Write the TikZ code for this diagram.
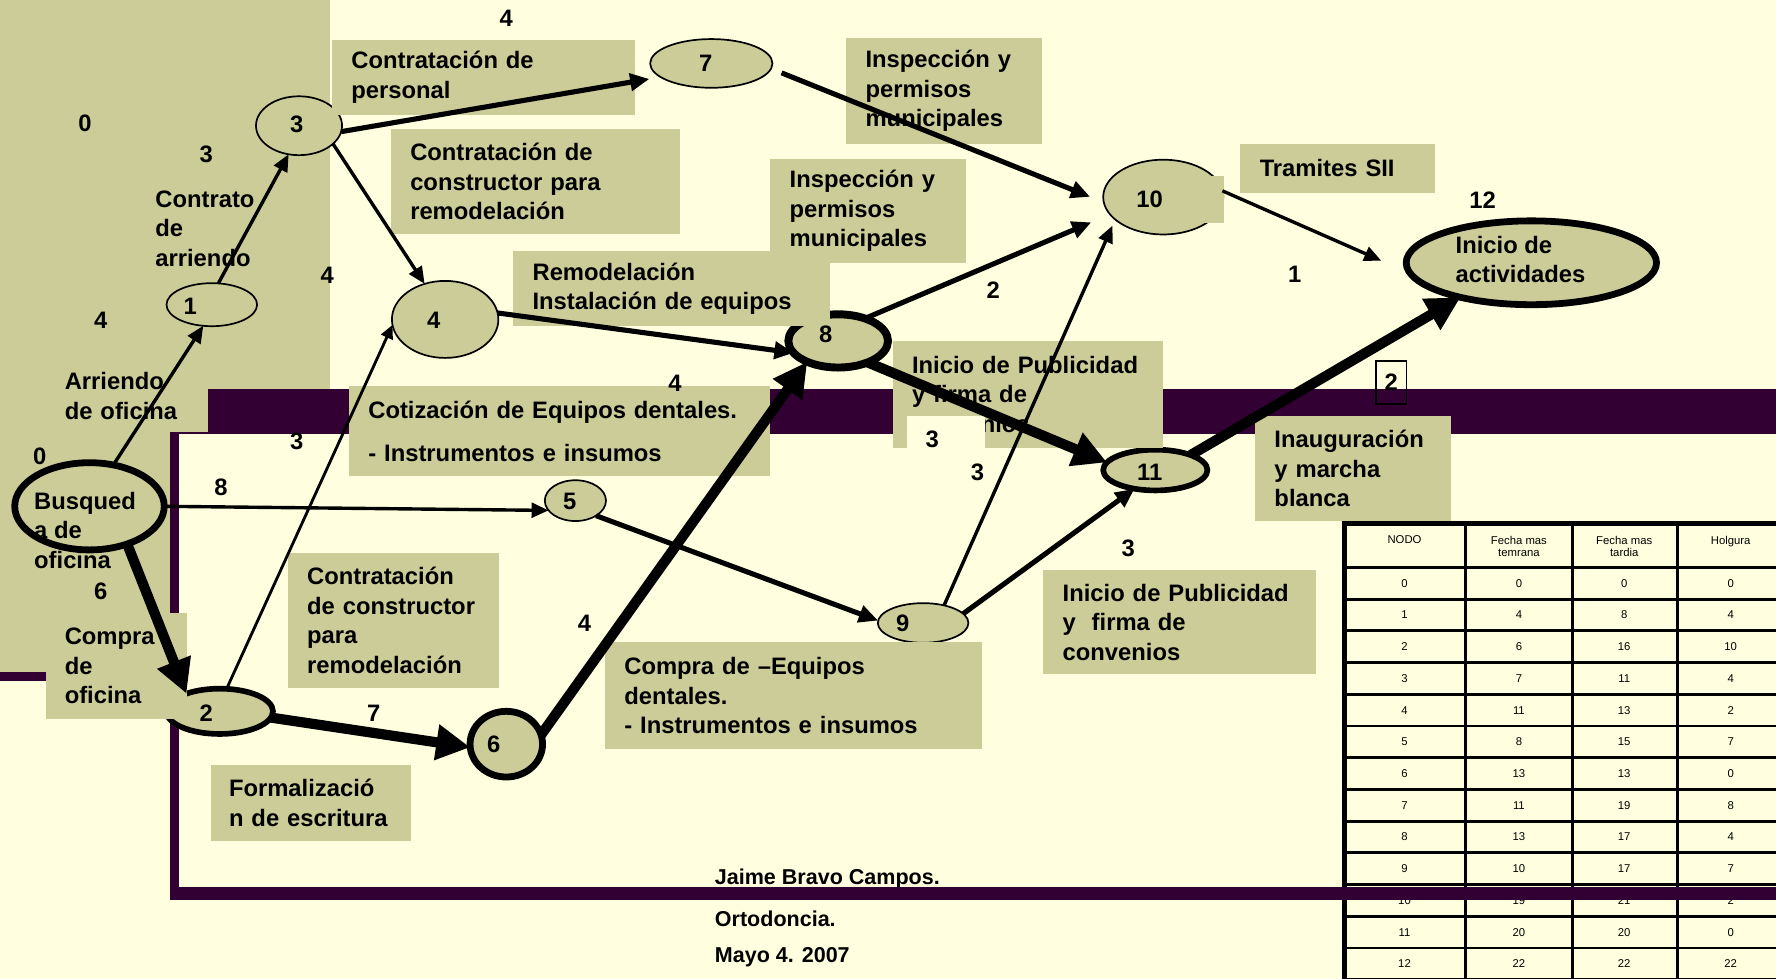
\documentclass[tikz,border=0pt]{standalone}
\usepackage{fontspec}
\setmainfont{Liberation Sans}
\usepackage{tikz}
\usetikzlibrary{arrows.meta,shapes.geometric,positioning}
\definecolor{crema}{RGB}{255,255,224}
\definecolor{caqui}{RGB}{204,204,153}
\definecolor{ciruela}{RGB}{51,0,51}

\begin{document}
\begin{tikzpicture}[x=1pt,y=-1pt,
  caja/.style={fill=caqui,anchor=north west,align=left,inner xsep=17pt,inner ysep=0pt,
    font=\bfseries\fontsize{21}{26}\selectfont},
  nodo/.style={ellipse,draw,fill=caqui,line width=1.5pt,inner sep=0pt,outer sep=0pt},
  nodog/.style={nodo,line width=6pt},
  num/.style={font=\bfseries\fontsize{21}{26}\selectfont,inner sep=0pt,align=left},
  pie/.style={font=\bfseries\fontsize{19}{22}\selectfont,inner sep=0pt,anchor=west},
  celda/.style={font=\fontsize{10}{11}\selectfont,inner sep=0pt,align=center}]
\useasboundingbox (0,0) rectangle (1568,864);
\fill[crema] (0,0) rectangle (1568,864);
\fill[caqui] (0,0) rectangle (291,593);
\fill[ciruela] (0,593) rectangle (158,601);
\fill[ciruela] (150,343) rectangle (1568,795);
\fill[crema] (158,383) rectangle (1568,783);

\foreach \k in {0,...,13} \draw[line width=2.5pt] (1187,501+28*\k) -- (1580,501+28*\k);
\foreach \c in {1294,1388,1481} \draw[line width=2.5pt] (\c,462) -- (\c,870);
\draw[line width=4.5pt] (1187,870) -- (1187,462) -- (1580,462);
\node[celda,anchor=north] (hNodo) at (1240,473) {NODO};
\node[celda,anchor=north] (hTemp) at (1341,473) {Fecha mas\\temrana};
\node[celda,anchor=north] (hTard) at (1434,473) {Fecha mas\\tardia};
\node[celda,anchor=north] (hHolg) at (1528,473) {Holgura};
\foreach \nd/\tem/\tar/\hol [count=\k from 0] in {0/0/0/0,1/4/8/4,2/6/16/10,3/7/11/4,
    4/11/13/2,5/8/15/7,6/13/13/0,7/11/19/8,8/13/17/4,9/10/17/7,10/19/21/2,11/20/20/0,12/22/22/22}{
  \node[celda] (r\k-1) at (1240,515+28*\k) {\nd};
  \node[celda] (r\k-2) at (1341,515+28*\k) {\tem};
  \node[celda] (r\k-3) at (1434,515+28*\k) {\tar};
  \node[celda] (r\k-4) at (1528,515+28*\k) {\hol};
}

\node[pie] (autor) at (631,776) {Jaime Bravo Campos.};
\node[pie] (area) at (631,811) {Ortodoncia.};
\node[pie] (fecha) at (631,845) {Mayo 4. 2007};
\fill[ciruela] (150,783) rectangle (1568,795);

\node[nodog,minimum width=132pt,minimum height=77pt] (n0) at (79,447) {};
\node[nodo,minimum width=80pt,minimum height=38pt] (n1) at (187,269) {};
\node[nodog,line width=5pt,minimum width=94pt,minimum height=40pt] (n2) at (194,628) {};
\node[nodo,minimum width=76pt,minimum height=52pt] (n3) at (264,111) {};
\node[nodo,minimum width=94pt,minimum height=68pt] (n4) at (393,282) {};
\node[nodo,minimum width=54pt,minimum height=36pt] (n5) at (508,442) {};
\node[nodog,minimum width=64pt,minimum height=58pt] (n6) at (447,657) {};
\node[nodo,minimum width=108pt,minimum height=43pt] (n7) at (628,56) {};
\node[nodog,line width=7pt,minimum width=88pt,minimum height=47pt] (n8) at (740,301) {};
\node[nodo,minimum width=80pt,minimum height=35pt] (n9) at (815,550) {};
\node[nodo,minimum width=106pt,minimum height=66pt] (n10) at (1027,174) {};
\node[nodog,line width=5pt,minimum width=92pt,minimum height=36pt] (n11) at (1020,415) {};
\node[nodog,minimum width=221pt,minimum height=74pt] (n12) at (1352,232) {};

\node[caja,text width=233pt,minimum height=66pt] (cPersonal) at (293,35) {Contratación de\\personal};
\node[caja,text width=139pt,minimum height=94pt] (cInsp1) at (747,33) {Inspección y\\permisos\\municipales};
\node[caja,text width=221pt,minimum height=92pt] (cConstr1) at (345,114) {Contratación de\\constructor para\\remodelación};
\node[caja,text width=139pt,minimum height=92pt] (cInsp2) at (680,140) {Inspección y\\permisos\\municipales};
\node[caja,text width=138pt,minimum height=43pt] (cSII) at (1095,127) {Tramites SII};
\node[caja,text width=246pt,minimum height=67pt] (cRemod) at (453,221) {Remodelación\\Instalación de equipos};
\node[caja,text width=109pt,minimum height=63pt] (cArriendo) at (40,318) {Arriendo\\de oficina};
\node[caja,text width=338pt,minimum height=79pt] (cCotiz) at (308,341) {Cotización de Equipos dentales.\\[12pt]- Instrumentos e insumos};
\node[caja,text width=205pt,minimum height=94pt] (cPubli1) at (788,301) {Inicio de Publicidad\\y firma de\\convenios};
\node[caja,text width=152pt,minimum height=119pt] (cConstr2) at (254,488) {Contratación\\de constructor\\para\\remodelación};
\node[caja,text width=91pt,minimum height=94pt] (cCompra) at (40,541) {Compra\\de\\oficina};
\node[caja,inner xsep=16pt,text width=145pt,minimum height=67pt] (cFormal) at (186,675) {Formalizació\\n de escritura};
\node[caja,text width=299pt,minimum height=94pt] (cEquipos) at (534,567) {Compra de --Equipos\\dentales.\\- Instrumentos e insumos};
\node[caja,text width=207pt,minimum height=92pt] (cPubli2) at (921,503) {Inicio de Publicidad\\y~ firma de\\convenios};
\node[caja,text width=139pt,minimum height=93pt] (cInaug) at (1108,367) {Inauguración\\y marcha\\blanca};
\node[caja,inner xsep=13pt,text width=64pt,minimum height=42pt] (c10) at (990,155) {10};
\node[caja,fill=crema,text width=34pt,minimum height=28pt] (c3) at (801,367) {};

\node[num,anchor=west] (t0) at (30,468) {Busqued\\a de\\oficina};
\node[num] (t1) at (168,270) {1};
\node[num] (t2) at (182,630) {2};
\node[num] (t3) at (262,110) {3};
\node[num] (t4) at (383,283) {4};
\node[num] (t5) at (503,443) {5};
\node[num] (t6) at (436,657) {6};
\node[num] (t7) at (623,56) {7};
\node[num] (t8) at (729,295) {8};
\node[num] (t9) at (797,550) {9};
\node[num] (t11) at (1015,417) {11};
\node[num,anchor=west] (t12) at (1285,229) {Inicio de\\actividades};
\node[num,anchor=west] (tContrato) at (137,202) {Contrato\\de\\arriendo};

\node[num] (l1) at (75,109) {0};
\node[num] (l2) at (182,136) {3};
\node[num] (l3) at (89,283) {4};
\node[num] (l4) at (289,243) {4};
\node[num] (l5) at (35,403) {0};
\node[num] (l6) at (89,522) {6};
\node[num] (l7) at (262,390) {3};
\node[num] (l8) at (195,430) {8};
\node[num] (l9) at (447,16) {4};
\node[num] (l10) at (596,338) {4};
\node[num] (l11) at (516,550) {4};
\node[num] (l12) at (330,630) {7};
\node[num] (l13) at (877,256) {2};
\node[num] (l14) at (863,417) {3};
\node[num] (l15) at (996,484) {3};
\node[num] (l16) at (1143,242) {1};
\node[num] (l17) at (1309,177) {12};
\node[num] (l19) at (823,388) {3};

\path[->,>={Triangle[length=15pt,width=13pt]},line width=3pt]
(n0.60) edge (n1.248)
(n1.73) edge (n3.250)
(n3.332) edge (n4.120)
(n0.east) edge (n5.200)
(n9.40) edge[shorten >=6pt] (n10.205)
(n10.6) edge[shorten >=28pt] (n12.185);
\path[->,>={Triangle[length=12pt,width=11pt]},line width=2.5pt]
(n2.73) edge (n4.186);
\path[->,>={Triangle[length=17pt,width=15pt]},line width=4.5pt]
(n3.352) edge[shorten >=10pt] (n7.195)
(n4.7) edge (n8.195)
(n5.324) edge (n9.177)
(n7.355) edge[shorten <=10pt,shorten >=13pt] (n10.185)
(n8.40) edge[shorten >=18pt] (n10.198)
(n9.13) edge (n11.222);
\path[->,>={Triangle[length=30pt,width=30pt]},line width=9pt]
(n0.315) edge (n2.152)
(n2.353) edge (n6.185)
(n6.15) edge (n8.214)
(n8.324) edge (n11.171)
(n11.23) edge (n12.206);

\node[num,draw,line width=1.5pt,anchor=north west,minimum width=27pt,minimum height=38pt] (l18) at (1214,318) {2};
\end{tikzpicture}
\end{document}
